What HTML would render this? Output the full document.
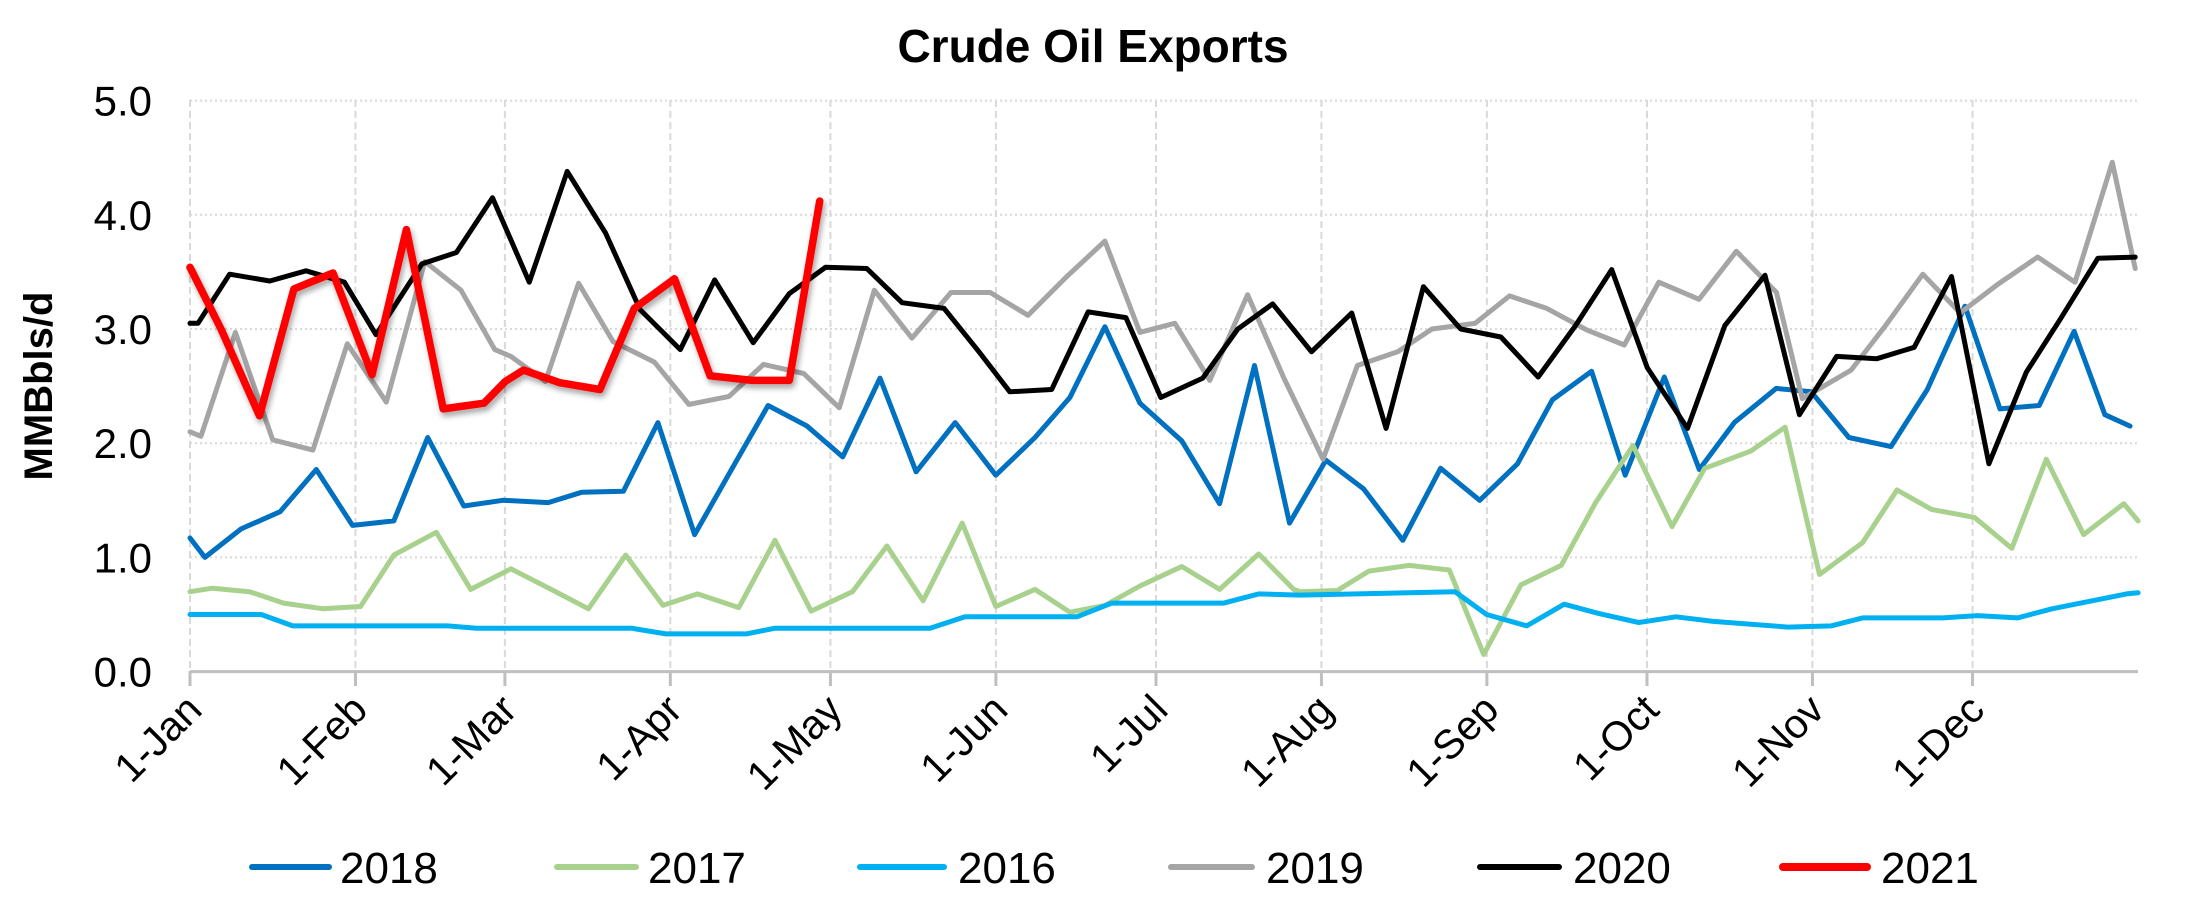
<!DOCTYPE html>
<html><head><meta charset="utf-8"><style>
html,body{margin:0;padding:0;background:#fff;}
svg{display:block;font-family:"Liberation Sans",sans-serif;}
</style></head><body>
<svg id="c" width="2193" height="900" xmlns="http://www.w3.org/2000/svg">
<defs><filter id="sh" x="-5%" y="-5%" width="110%" height="120%"><feDropShadow dx="2" dy="4" stdDeviation="3" flood-color="#000" flood-opacity="0.35"/></filter></defs>
<text x="1093" y="62" text-anchor="middle" font-size="46" font-weight="bold">Crude Oil Exports</text>
<g id="grid"></g>
<text transform="translate(52,386) rotate(-90)" text-anchor="middle" font-size="40" font-weight="bold">MMBbls/d</text>
<g id="ser"></g>
<g id="leg" font-size="44"></g>
</svg>
<script>
const NS="http://www.w3.org/2000/svg";
const Y=v=>671.6-114.2*v;
const A=z=>z/1.742, B=z=>1300+z/1.742, M=m=>m*1.3986;
function el(p,t,a,txt){const e=document.createElementNS(NS,t);for(const k in a)e.setAttribute(k,a[k]);if(txt!=null)e.textContent=txt;p.appendChild(e);return e;}
const g=document.getElementById('grid');
const x0=190,x1=2138;
for(let v=1;v<=5;v++){el(g,'line',{x1:x0,x2:x1,y1:Y(v),y2:Y(v),stroke:'#d9d9d9','stroke-width':2,'stroke-dasharray':'2,3'});}
for(let v=0;v<=5;v++){el(g,'text',{x:152,y:Y(v)+15,'text-anchor':'end','font-size':42},v.toFixed(1));}
const months=[['1-Jan',0],['1-Feb',31],['1-Mar',59],['1-Apr',90],['1-May',120],['1-Jun',151],['1-Jul',181],['1-Aug',212],['1-Sep',243],['1-Oct',273],['1-Nov',304],['1-Dec',334]];
const X=d=>190+d*5.337;
months.forEach(([l,d])=>{const x=X(d);
 el(g,'line',{x1:x,x2:x,y1:100,y2:671,stroke:'#d9d9d9','stroke-width':2,'stroke-dasharray':'7,4'});
 el(g,'line',{x1:x,x2:x,y1:671,y2:686,stroke:'#bfbfbf','stroke-width':3});
 el(g,'text',{transform:`translate(${x+14},${712}) rotate(-45)`,'text-anchor':'end','font-size':41},l);
});
el(g,'line',{x1:x0,x2:x1,y1:671.6,y2:671.6,stroke:'#bfbfbf','stroke-width':3});
const S={};
S.b18=[[A,331,1.17],[A,357,1.0],[A,420,1.25],[A,488,1.4],[A,551,1.77],[A,614,1.28],[A,686,1.32],[A,745,2.05],[A,808,1.45],[A,876,1.5],[A,955,1.48],[A,1013,1.57],[A,1086,1.58],[A,1146,2.18],[A,1210,1.2],[A,1272,1.75],[A,1338,2.33],[A,1406,2.15],[A,1468,1.88],[A,1533,2.57],
[M,655,1.75],[M,683,2.18],[M,712,1.72],[M,740,2.05],[M,765,2.4],[M,790,3.02],[M,815,2.35],[M,845,2.02],[M,872,1.47],[M,897,2.68],[M,922,1.3],[M,948,1.85],[M,975,1.6],[M,1003,1.15],[M,1030,1.78],[M,1058,1.5],[M,1085,1.82],[M,1110,2.38],[M,1138,2.63],[M,1162,1.72],[M,1190,2.58],[M,1215,1.77],[M,1240,2.18],[M,1270,2.48],[M,1295,2.45],[M,1322,2.05],[M,1352,1.97],[M,1378,2.47],[M,1405,3.2],[M,1430,2.3],[M,1458,2.33],[M,1483,2.98],[M,1505,2.25],[M,1523,2.15]];
S.g17=[[A,331,0.7],[A,370,0.73],[A,435,0.7],[A,494,0.6],[A,563,0.55],[A,628,0.57],[A,686,1.02],[A,760,1.22],[A,820,0.72],[A,890,0.9],[A,960,0.72],[A,1025,0.55],[A,1090,1.02],[A,1155,0.58],[A,1215,0.68],[A,1287,0.56],[A,1350,1.15],[A,1413,0.53],[A,1485,0.7],[A,1545,1.1],
[M,660,0.62],[M,688,1.3],[M,712,0.57],[M,740,0.72],[M,765,0.52],[M,790,0.58],[M,815,0.75],[M,845,0.92],[M,872,0.72],[M,900,1.03],[M,925,0.72],
[B,0,0.70],[B,65,0.71],[B,120,0.88],[B,190,0.93],[B,260,0.89],[B,320,0.15],[B,385,0.76],[B,455,0.93],[B,515,1.48],[B,580,1.98],[B,648,1.27],[B,705,1.78],[B,785,1.93],[B,845,2.14],[B,905,0.85],[B,980,1.13],[B,1040,1.59],[B,1100,1.42],[B,1175,1.35],[B,1240,1.08],[B,1300,1.86],[B,1365,1.2],[B,1435,1.47],[B,1460,1.32]];
S.c16=[[A,331,0.5],[A,455,0.5],[A,510,0.4],[A,780,0.4],[A,830,0.38],[A,1100,0.38],[A,1160,0.33],[A,1300,0.33],[A,1350,0.38],[A,1560,0.38],
[M,665,0.38],[M,690,0.48],[M,770,0.48],[M,795,0.6],[M,875,0.6],[M,900,0.68],
[B,0,0.67],[B,270,0.70],[B,325,0.5],[B,395,0.4],[B,460,0.59],[B,520,0.51],[B,590,0.43],[B,655,0.48],[B,720,0.44],[B,850,0.39],[B,925,0.4],[B,980,0.47],[B,1120,0.47],[B,1180,0.49],[B,1250,0.47],[B,1310,0.55],[B,1370,0.61],[B,1440,0.68],[B,1460,0.69]];
S.g19=[[A,331,2.1],[A,350,2.06],[A,410,2.97],[A,475,2.03],[A,545,1.94],[A,605,2.87],[A,673,2.36],[A,740,3.59],[A,803,3.34],[A,862,2.82],[A,890,2.76],[A,950,2.54],[A,1008,3.4],[A,1068,2.89],[A,1140,2.71],[A,1200,2.34],[A,1270,2.41],[A,1330,2.69],[A,1400,2.61],[A,1462,2.31],[A,1523,3.34],
[M,652,2.92],[M,680,3.32],[M,708,3.32],[M,735,3.12],[M,762,3.45],[M,790,3.77],[M,815,2.97],[M,840,3.05],[M,865,2.55],[M,892,3.3],[M,918,2.57],
[B,40,1.86],[B,100,2.68],[B,170,2.8],[B,230,3.0],[B,305,3.05],[B,365,3.29],[B,430,3.18],[B,500,2.99],[B,565,2.86],[B,625,3.41],[B,695,3.26],[B,760,3.68],[B,830,3.32],[B,875,2.39],[B,960,2.64],[B,1020,3.03],[B,1085,3.48],[B,1150,3.14],[B,1215,3.39],[B,1285,3.63],[B,1350,3.41],[B,1415,4.46],[B,1455,3.53]];
S.k20=[[A,331,3.05],[A,345,3.05],[A,400,3.48],[A,470,3.42],[A,533,3.51],[A,600,3.41],[A,655,2.95],[A,735,3.57],[A,795,3.67],[A,858,4.15],[A,922,3.41],[A,988,4.38],[A,1055,3.84],[A,1115,3.17],[A,1185,2.82],[A,1245,3.43],[A,1312,2.88],[A,1375,3.31],[A,1438,3.54],[A,1510,3.53],
[M,645,3.23],[M,675,3.18],[M,700,2.8],[M,722,2.45],[M,752,2.47],[M,778,3.15],[M,805,3.1],[M,830,2.4],[M,860,2.57],[M,885,3.0],[M,910,3.22],
[B,20,2.8],[B,90,3.14],[B,150,2.13],[B,215,3.37],[B,280,3.0],[B,350,2.93],[B,415,2.58],[B,480,3.03],[B,543,3.52],[B,605,2.66],[B,675,2.13],[B,740,3.03],[B,810,3.47],[B,870,2.25],[B,935,2.76],[B,1005,2.74],[B,1070,2.84],[B,1135,3.46],[B,1200,1.82],[B,1265,2.62],[B,1325,3.09],[B,1390,3.62],[B,1455,3.63]];
S.r21=[[A,331,3.54],[A,385,3.0],[A,452,2.24],[A,512,3.35],[A,580,3.49],[A,648,2.6],[A,708,3.87],[A,772,2.3],[A,843,2.35],[A,880,2.54],[A,912,2.64],[A,975,2.53],[A,1045,2.47],[A,1105,3.18],[A,1175,3.44],[A,1237,2.59],[A,1310,2.55],[A,1375,2.55],[A,1428,4.12]];
const sg=document.getElementById('ser');
const sty=[['b18','#0070C0',5],['g17','#A9D18E',5],['c16','#00B0F0',5],['g19','#A5A5A5',5],['k20','#000000',5],['r21','#FF0000',7.5]];
sty.forEach(([k,c,w])=>{const pts=S[k].map(([f,x,v])=>f(x).toFixed(1)+','+Y(v).toFixed(1)).join(' ');
 const a={points:pts,fill:'none',stroke:c,'stroke-width':w,'stroke-linejoin':'round','stroke-linecap':'round'};
 if(k==='r21')a.filter='url(#sh)';
 el(sg,'polyline',a);});
const lg=document.getElementById('leg');
const L=[['2018','#0070C0',252,329,340],['2017','#A9D18E',557,636,648],['2016','#00B0F0',860,944,958],['2019','#A5A5A5',1171,1252,1266],['2020','#000000',1480,1559,1573],['2021','#FF0000',1783,1867,1881]];
L.forEach(([t,c,a,b,tx])=>{el(lg,'line',{x1:a,x2:b,y1:867,y2:867,stroke:c,'stroke-width':(t==='2021'?8:6),'stroke-linecap':'round'});
 el(lg,'text',{x:tx,y:883},t);});
</script>
</body></html>
